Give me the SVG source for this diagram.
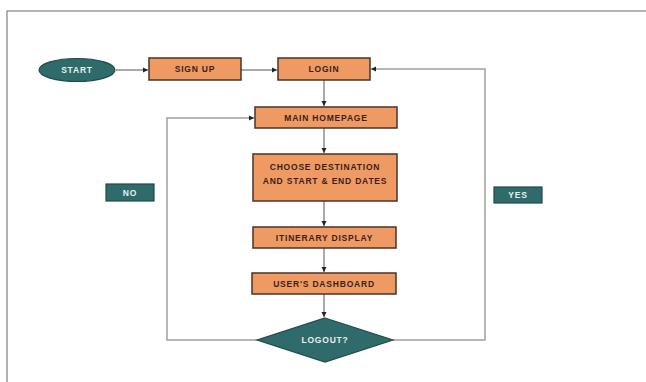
<svg xmlns="http://www.w3.org/2000/svg" width="646" height="382" viewBox="0 0 646 382">
<style>
.box{fill:#EF9A63;stroke:#4a3326;stroke-width:1.5}
.teal{fill:#2F6B6A;stroke:#1f4a49;stroke-width:1.2}
.t{font-family:"Liberation Sans",Arial,sans-serif;font-weight:bold;font-size:8.5px;letter-spacing:0.8px;text-anchor:middle;fill:#3a1f18}
.w{fill:#e8f0ef}
.c{fill:none;stroke:#555;stroke-width:1}
.g{fill:none;stroke:#a0a0a0;stroke-width:1.5}
</style>
<defs>
<marker id="ah" markerWidth="6" markerHeight="6" refX="5" refY="3" orient="auto" markerUnits="userSpaceOnUse">
<path d="M0,0.5 L5,3 L0,5.5 Z" fill="#222"/>
</marker>
</defs>
<rect width="646" height="382" fill="#fff"/>
<path d="M7,382 V11 H646" fill="none" stroke="#999" stroke-width="1.5"/>
<g id="connectors">
<path class="c" d="M116,70 H148" marker-end="url(#ah)"/>
<path class="c" d="M241,70 H277" marker-end="url(#ah)"/>
<path class="c" d="M324,80 V106" marker-end="url(#ah)"/>
<path class="c" d="M324,128 V153" marker-end="url(#ah)"/>
<path class="c" d="M324,201 V226" marker-end="url(#ah)"/>
<path class="c" d="M324,248 V272" marker-end="url(#ah)"/>
<path class="c" d="M324,294 V317" marker-end="url(#ah)"/>
<path class="g" d="M257,340 H167 V118 H254" marker-end="url(#ah)"/>
<path class="g" d="M393,340 H485 V69 H371" marker-end="url(#ah)"/>
</g>
<g id="start">
<ellipse class="teal" cx="77" cy="70" rx="38" ry="11.5"/>
<text class="t w" x="77" y="73">START</text>
</g>
<g id="signup">
<rect class="box" x="149" y="58" width="92" height="22"/>
<text class="t" x="195" y="72">SIGN UP</text>
</g>
<g id="login">
<rect class="box" x="278" y="58" width="92" height="22"/>
<text class="t" x="324" y="72">LOGIN</text>
</g>
<g id="homepage">
<rect class="box" x="255" y="107" width="142" height="21"/>
<text class="t" x="326" y="121">MAIN HOMEPAGE</text>
</g>
<g id="choose">
<rect class="box" x="253" y="154" width="144" height="47"/>
<text class="t" x="325" y="170">CHOOSE DESTINATION</text>
<text class="t" x="325" y="184">AND START &amp; END DATES</text>
</g>
<g id="itinerary">
<rect class="box" x="253" y="227" width="143" height="21"/>
<text class="t" x="324.5" y="241">ITINERARY DISPLAY</text>
</g>
<g id="dashboard">
<rect class="box" x="252" y="273" width="144" height="21"/>
<text class="t" x="324" y="287">USER'S DASHBOARD</text>
</g>
<g id="logout">
<polygon class="teal" points="325,318 393,340 325,362 257,340"/>
<text class="t w" x="325" y="343">LOGOUT?</text>
</g>
<g id="no">
<rect class="teal" x="106" y="184" width="48" height="17"/>
<text class="t w" x="130" y="195.5">NO</text>
</g>
<g id="yes">
<rect class="teal" x="494" y="187" width="48" height="16"/>
<text class="t w" x="518" y="198">YES</text>
</g>
</svg>
